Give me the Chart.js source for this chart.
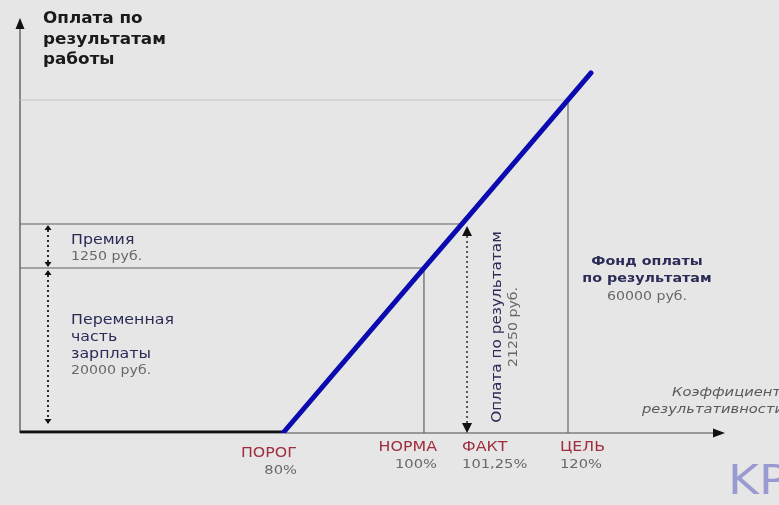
<!DOCTYPE html>
<html>
<head>
<meta charset="utf-8">
<script src="https://cdn.jsdelivr.net/npm/chart.js@4.4.1/dist/chart.umd.min.js"></script>
<style>
  html, body { margin: 0; padding: 0; background: #e6e6e6; }
  #wrap { width: 779px; height: 505px; position: relative; }
</style>
</head>
<body>
<div id="wrap"><canvas id="c" width="779" height="505"></canvas></div>
<script>
// Key points of the pay scheme: performance coefficient (%) and pay (руб.)
const pointNames  = ['ПОРОГ', 'НОРМА', 'ФАКТ', 'ЦЕЛЬ'];
const pointLabels = ['80%', '100%', '101,25%', '120%'];
const coefficients = [80, 100, 101.25, 120];
const payValues    = [0, 20000, 21250, 60000];
// the pay line runs on a little past the target
const lineEndCoef = 122;
const lineEndPay  = 64000;

const NAVY = '#2b2b58', GRAY = '#686868', MAROON = '#9e2d3d';
const FONT = '"DejaVu Sans", Verdana, sans-serif';

// Schematic axis: values are mapped piecewise so the key points spread out readably
class PiecewiseScale extends Chart.LinearScale {
  _toDecimal(v) {
    const s = this.options.stops;
    if (v <= s[0][0]) return s[0][1];
    for (let i = 1; i < s.length; i++) {
      if (v <= s[i][0]) {
        const [v0, d0] = s[i - 1], [v1, d1] = s[i];
        return d0 + (v - v0) / (v1 - v0) * (d1 - d0);
      }
    }
    return s[s.length - 1][1];
  }
  _fromDecimal(d) {
    const s = this.options.stops;
    if (d <= s[0][1]) return s[0][0];
    for (let i = 1; i < s.length; i++) {
      if (d <= s[i][1]) {
        const [v0, d0] = s[i - 1], [v1, d1] = s[i];
        return v0 + (d - d0) / (d1 - d0) * (v1 - v0);
      }
    }
    return s[s.length - 1][0];
  }
  getPixelForValue(value) { return this.getPixelForDecimal(this._toDecimal(value)); }
  getValueForPixel(pixel) { return this._fromDecimal(this.getDecimalForPixel(pixel)); }
}
PiecewiseScale.id = 'piecewise';
PiecewiseScale.defaults = Chart.LinearScale.defaults;
Chart.register(PiecewiseScale);

const pts = (xs, ys) => xs.map((x, i) => ({ x, y: ys[i] }));

const payLine = pts(coefficients, payValues).concat([{ x: lineEndCoef, y: lineEndPay }]);
const [cThr, cNorm, cFact, cGoal] = coefficients;
const [pThr, pNorm, pFact, pGoal] = payValues;

function text(ctx, str, x, y, font, color, align, sx) {
  ctx.save();
  ctx.translate(x, y);
  ctx.scale(sx || 1, 1);
  ctx.font = font;
  ctx.fillStyle = color;
  ctx.textAlign = align || 'left';
  ctx.textBaseline = 'middle';
  ctx.fillText(str, 0, 0);
  ctx.restore();
}

function arrowHead(ctx, x, y, dir, half, len) {
  // dir: -1 points up, +1 points down (vertical); 'r' points right
  ctx.beginPath();
  if (dir === 'r') {
    ctx.moveTo(x, y); ctx.lineTo(x - len, y - half); ctx.lineTo(x - len, y + half);
  } else {
    ctx.moveTo(x, y); ctx.lineTo(x - half, y - dir * len); ctx.lineTo(x + half, y - dir * len);
  }
  ctx.closePath();
  ctx.fill();
}

function dottedArrow(ctx, x, yTop, yBot, half, len, lw) {
  ctx.save();
  ctx.strokeStyle = '#2a2a2a';
  ctx.fillStyle = '#111';
  ctx.lineWidth = lw;
  ctx.setLineDash([2, 3]);
  ctx.beginPath();
  ctx.moveTo(x, yTop + len);
  ctx.lineTo(x, yBot - len);
  ctx.stroke();
  ctx.setLineDash([]);
  arrowHead(ctx, x, yTop, -1, half, len);
  arrowHead(ctx, x, yBot, 1, half, len);
  ctx.restore();
}

const axesPlugin = {
  id: 'axes',
  beforeDatasetsDraw(chart) {
    const { ctx, chartArea: a } = chart;
    ctx.save();
    ctx.strokeStyle = '#4a4a4a';
    ctx.fillStyle = '#111';
    ctx.lineWidth = 1.2;
    ctx.beginPath();
    ctx.moveTo(a.left, a.bottom); ctx.lineTo(a.left, a.top);
    ctx.moveTo(a.left, a.bottom); ctx.lineTo(a.right - 10, a.bottom);
    ctx.stroke();
    arrowHead(ctx, a.left, a.top - 2, -1, 4.5, 11);
    arrowHead(ctx, a.right, a.bottom, 'r', 4.5, 12);
    ctx.restore();
  }
};

const notesPlugin = {
  id: 'notes',
  afterDatasetsDraw(chart) {
    const { ctx } = chart;
    const xs = chart.scales.x, ys = chart.scales.y;
    const yNorm = ys.getPixelForValue(pNorm);
    const yFact = ys.getPixelForValue(pFact);
    const y0 = ys.getPixelForValue(0);

    // bonus and variable-pay spans on the left
    const xl = xs.left + 28;
    dottedArrow(ctx, xl, yFact + 1, yNorm - 1, 3.5, 5, 2);
    dottedArrow(ctx, xl, yNorm + 2, y0 - 9, 3.5, 5, 2);
    // actual pay span under ФАКТ
    const xf = xs.getPixelForValue(cFact) + 5;
    dottedArrow(ctx, xf, yFact + 2, y0, 5, 10, 1.5);

    const sx = 1.13;
    // vertical axis title
    ['Оплата по', 'результатам', 'работы'].forEach((s, i) =>
      text(ctx, s, 43, 19 + i * 20.5, 'bold 16px ' + FONT, '#1a1a1a', 'left', 1.05));

    text(ctx, 'Премия', 71, 240, '14px ' + FONT, NAVY, 'left', sx);
    text(ctx, pFact - pNorm + ' руб.', 71, 257, '12px ' + FONT, GRAY, 'left', 1.18);

    ['Переменная', 'часть', 'зарплаты'].forEach((s, i) =>
      text(ctx, s, 71, 320 + i * 17, '14px ' + FONT, NAVY, 'left', sx));
    text(ctx, pNorm + ' руб.', 71, 371, '12px ' + FONT, GRAY, 'left', 1.18);

    // rotated caption beside the actual-pay span
    ctx.save();
    ctx.translate(497, 327);
    ctx.rotate(-Math.PI / 2);
    text(ctx, 'Оплата по результатам', 0, 0, '14px ' + FONT, NAVY, 'center', 1.09);
    text(ctx, pFact + ' руб.', 0, 17, '12px ' + FONT, GRAY, 'center', 1.18);
    ctx.restore();

    text(ctx, 'Фонд оплаты', 647, 262, 'bold 13px ' + FONT, NAVY, 'center', 1.1);
    text(ctx, 'по результатам', 647, 279, 'bold 13px ' + FONT, NAVY, 'center', 1.1);
    text(ctx, pGoal + ' руб.', 647, 297, '12px ' + FONT, GRAY, 'center', 1.18);

    // horizontal axis title
    text(ctx, 'Коэффициент', 672, 393, 'italic 13px ' + FONT, '#5a5a5a', 'left', sx);
    text(ctx, 'результативности', 642, 410, 'italic 13px ' + FONT, '#5a5a5a', 'left', sx);

    // key point captions under the axis
    const place = [
      { dx: 14, align: 'right', y1: 453, y2: 471 },
      { dx: 13, align: 'right', y1: 447, y2: 465 },
      { dx: 0,  align: 'left',  y1: 447, y2: 465 },
      { dx: -8, align: 'left',  y1: 447, y2: 465 }
    ];
    coefficients.forEach((c, i) => {
      const p = place[i];
      const x = xs.getPixelForValue(c) + p.dx;
      text(ctx, pointNames[i], x, p.y1, '14px ' + FONT, MAROON, p.align, sx);
      text(ctx, pointLabels[i], x, p.y2, '13px ' + FONT, GRAY, p.align, sx);
    });

    // corner logo
    text(ctx, 'KP', 728, 483, '41px ' + FONT, '#9a9ad2', 'left', 1.15);
  }
};

new Chart(document.getElementById('c'), {
  type: 'line',
  data: {
    datasets: [
      { data: payLine, borderColor: '#0a0ab0', borderWidth: 5, borderCapStyle: 'round', borderJoinStyle: 'round' },
      { data: pts([0, cThr], [0, pThr]), borderColor: '#111111', borderWidth: 5 },
      { data: pts([0, cNorm, cNorm], [pNorm, pNorm, 0]), borderColor: '#5e5e5e', borderWidth: 1.2 },
      { data: pts([0, cFact], [pFact, pFact]), borderColor: '#5e5e5e', borderWidth: 1.2 },
      { data: pts([0, cGoal], [pGoal, pGoal]), borderColor: '#c6c6c6', borderWidth: 1.2 },
      { data: pts([cGoal, cGoal], [pGoal, 0]), borderColor: '#6a6a6a', borderWidth: 1.2 }
    ]
  },
  options: {
    responsive: false,
    animation: false,
    events: [],
    layout: { padding: { left: 20, right: 54, top: 20, bottom: 72 } },
    elements: { point: { radius: 0 }, line: { tension: 0, fill: false } },
    plugins: { legend: { display: false }, tooltip: { enabled: false } },
    scales: {
      x: {
        type: 'piecewise', display: false, min: 0, max: 135,
        stops: [[0, 0], [80, 0.3730], [100, 0.5730], [101.25, 0.6270], [120, 0.7773], [122, 0.8099], [135, 1]]
      },
      y: {
        type: 'piecewise', display: false, min: 0, max: 75000,
        stops: [[0, 0], [20000, 0.3995], [21250, 0.5061], [60000, 0.8063], [64000, 0.8717], [75000, 1]]
      }
    }
  },
  plugins: [axesPlugin, notesPlugin]
});
</script>
</body>
</html>
